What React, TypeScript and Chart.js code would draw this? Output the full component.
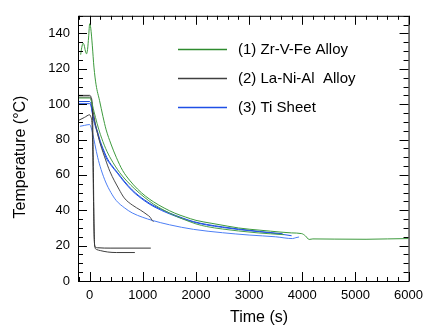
import React, { useEffect, useRef } from 'react';
import { Chart, registerables } from 'chart.js';

Chart.register(...registerables);

// ---- axes ----
const xRange = [-220, 6000];
const yRange = [0, 150];
const xTickValues = [0, 1000, 2000, 3000, 4000, 5000, 6000];
const yTickValues = [0, 20, 40, 60, 80, 100, 120, 140];
const xMinorStep = 200;
const yMinorStep = 5;
const xTitle = 'Time (s)';
const yTitle = 'Temperature (°C)';

// ---- legend ----
const legendLabels = ['(1) Zr-V-Fe Alloy', '(2) La-Ni-Al  Alloy', '(3) Ti Sheet'];
const legendColors = ['#2e8b2e', '#404040', '#1f4fe6'];

// ---- series: [time (s), temperature (°C)] ----
const zrVFeRun1 = [
  [-170, 128], [-150, 132], [-125, 134.5], [-105, 133.5], [-80, 130], [-60, 128.5], [-40, 131],
  [-20, 138], [0, 145.5], [20, 143], [50, 133], [80, 121], [120, 111], [186, 102], [250, 93],
  [310, 85.5], [400, 77.5], [500, 70], [620, 62.5], [750, 57], [900, 52], [1050, 48],
  [1200, 44.8], [1400, 41.3], [1600, 38.4], [1800, 36.2], [2000, 34.3], [2300, 32.6],
  [2600, 31], [2800, 30], [3000, 29.3], [3400, 28.2], [3800, 27.2], [3990, 26.8], [4060, 25.5],
  [4130, 23.5], [4200, 23.8], [4600, 23.7], [5200, 23.6], [5600, 23.8], [6000, 24],
];
const zrVFeRun2 = [
  [-220, 103.5], [0, 103.5], [30, 102], [80, 96], [140, 89], [200, 83], [300, 75], [400, 69],
  [560, 61.5], [700, 56.5], [850, 52], [1024, 47.5], [1200, 43.5], [1400, 40], [1600, 37],
  [1800, 34.5], [2000, 32.3], [2200, 30.8], [2500, 29.4], [2800, 28.3], [3170, 27.2],
  [3400, 26.7], [3650, 26.2],
];
const laNiAlRun1 = [
  [-220, 105], [0, 105], [25, 104], [50, 98], [62, 80], [72, 55], [82, 30], [92, 20.5],
  [105, 19.2], [150, 18.8], [400, 18.6], [1150, 18.6],
];
const laNiAlRun2 = [
  [-200, 91], [-100, 92.5], [0, 94], [20, 93], [45, 88], [60, 70], [72, 45], [85, 25],
  [100, 19], [130, 17.8], [200, 17.2], [340, 16.4], [500, 16.1], [850, 16.1],
];
const laNiAlRun3 = [
  [-220, 104], [0, 104], [25, 103], [60, 97], [100, 90], [150, 83], [200, 77.5], [300, 68.5],
  [380, 62], [550, 52], [650, 47], [800, 43], [960, 40], [1080, 37.5], [1140, 36],
  [1175, 34.3], [1200, 33.5],
];
const tiSheetRun1 = [
  [-220, 101.5], [0, 101.5], [20, 100.5], [60, 94], [100, 89], [143, 85], [200, 79], [250, 75],
  [320, 70], [400, 66], [520, 61.5], [650, 56.5], [800, 51.5], [1024, 46], [1210, 42.5],
  [1500, 38.5], [1750, 35.6], [1955, 33.6], [2200, 32], [2500, 30.6], [2800, 29.4],
  [3200, 28], [3630, 26.7],
];
const tiSheetRun2 = [
  [-220, 100.3], [0, 100.3], [25, 99], [60, 93], [100, 88], [143, 84], [200, 78], [250, 74],
  [320, 69], [400, 65.5], [520, 61], [650, 56], [800, 51], [1024, 45.5], [1210, 42],
  [1500, 38], [1750, 35.2], [1955, 33.3], [2200, 31.7], [2500, 30.3], [2800, 29.1],
  [3200, 27.8], [3600, 26.5], [3800, 25.6],
];
const tiSheetRun3 = [
  [-185, 87.5], [-100, 88], [0, 88.5], [30, 86.5], [60, 83], [100, 77], [150, 70], [215, 63],
  [300, 56], [400, 50], [500, 45.5], [650, 41.5], [800, 38.5], [1000, 36], [1175, 34.3],
  [1500, 31.8], [1955, 29.2], [2500, 27.3], [3000, 26], [3500, 25], [3815, 24], [3880, 24.5],
  [3940, 24.9],
];

const runs = [
  { data: zrVFeRun1, color: '#3d9a3d' },
  { data: zrVFeRun2, color: '#4a9f4a' },
  { data: laNiAlRun1, color: '#333333' },
  { data: laNiAlRun2, color: '#3d3d3d' },
  { data: laNiAlRun3, color: '#4a4a4a' },
  { data: tiSheetRun3, color: '#4d7ff5' },
  { data: tiSheetRun2, color: '#2456e8' },
  { data: tiSheetRun1, color: '#1a49d6' },
];

const FONT = '"Liberation Sans", Arial, Helvetica, sans-serif';

const framePlugin = {
  id: 'frameTicks',
  afterDraw(chart: any) {
    const { ctx, chartArea: a, scales } = chart;
    const x = scales.x;
    const y = scales.y;
    ctx.save();
    ctx.lineWidth = 1;
    const seg = (x1: number, y1: number, x2: number, y2: number, color: string) => {
      ctx.beginPath();
      ctx.strokeStyle = color;
      ctx.moveTo(x1, y1);
      ctx.lineTo(x2, y2);
      ctx.stroke();
    };
    ctx.strokeStyle = '#000';
    ctx.strokeRect(a.left + 0.5, a.top + 0.5, a.right - a.left, a.bottom - a.top);
    const xStart = Math.ceil(xRange[0] / xMinorStep) * xMinorStep;
    for (let v = xStart; v <= xRange[1]; v += xMinorStep) {
      const px = Math.round(x.getPixelForValue(v)) + 0.5;
      const len = xTickValues.includes(v) ? 9 : 4;
      seg(px, a.bottom, px, a.bottom - len, '#000');
      seg(px, a.top, px, a.top + len, '#000');
    }
    for (let v = yRange[0]; v <= yRange[1]; v += yMinorStep) {
      const py = Math.round(y.getPixelForValue(v)) + 0.5;
      const len = yTickValues.includes(v) ? 9 : 5;
      seg(a.left, py, a.left + len, py, '#000');
      seg(a.right, py, a.right - len, py, '#000');
    }
    // axis titles
    ctx.fillStyle = '#000';
    ctx.font = `16px ${FONT}`;
    ctx.textAlign = 'center';
    ctx.textBaseline = 'middle';
    ctx.fillText(xTitle, 259, 318);
    ctx.save();
    ctx.translate(21, 157);
    ctx.rotate(-Math.PI / 2);
    ctx.fillText(yTitle, 0, 0);
    ctx.restore();
    // legend
    ctx.font = `15px ${FONT}`;
    ctx.textAlign = 'left';
    legendLabels.forEach((label, i) => {
      const ly = Math.round(a.top + 33 + i * 29) + 0.5;
      ctx.lineWidth = 1.5;
      seg(a.left + 100, ly, a.left + 149, ly, legendColors[i]);
      ctx.fillStyle = '#000';
      ctx.fillText(label, a.left + 160, ly);
    });
    ctx.restore();
  },
};

export default function App() {
  const ref = useRef<HTMLCanvasElement | null>(null);
  useEffect(() => {
    if (!ref.current) return;
    Chart.defaults.font.family = FONT;
    Chart.defaults.color = '#000';
    const chart = new Chart(ref.current, {
      type: 'line',
      data: {
        datasets: runs.map((r) => ({
          data: r.data.map(([t, v]) => ({ x: t, y: v })),
          borderColor: r.color,
          borderWidth: 1,
          pointRadius: 0,
          fill: false,
          cubicInterpolationMode: 'monotone' as const,
        })),
      },
      options: {
        animation: false,
        responsive: false,
        layout: { padding: { left: 0, top: 15, right: 17, bottom: 0 } },
        plugins: { legend: { display: false }, tooltip: { enabled: false } },
        scales: {
          x: {
            type: 'linear',
            min: xRange[0],
            max: xRange[1],
            grid: { display: false, drawTicks: false },
            border: { display: false },
            afterBuildTicks: (s: any) => {
              s.ticks = xTickValues.map((v) => ({ value: v }));
            },
            afterFit: (s: any) => {
              s.height = 46;
            },
            ticks: {
              font: { size: 13 },
              padding: 7,
              maxRotation: 0,
              color: '#000',
              callback: (v: any) => String(v),
            },
          },
          y: {
            type: 'linear',
            min: yRange[0],
            max: yRange[1],
            grid: { display: false, drawTicks: false },
            border: { display: false },
            afterBuildTicks: (s: any) => {
              s.ticks = yTickValues.map((v) => ({ value: v }));
            },
            afterFit: (s: any) => {
              s.width = 78;
            },
            ticks: { font: { size: 13 }, padding: 8, color: '#000', callback: (v: any) => String(v) },
          },
        },
      },
      plugins: [framePlugin],
    });
    return () => chart.destroy();
  }, []);
  return (
    <canvas
      ref={ref}
      width={430}
      height={327}
      style={{ position: 'absolute', left: 0, top: 0, width: 430, height: 327, display: 'block' }}
    />
  );
}
